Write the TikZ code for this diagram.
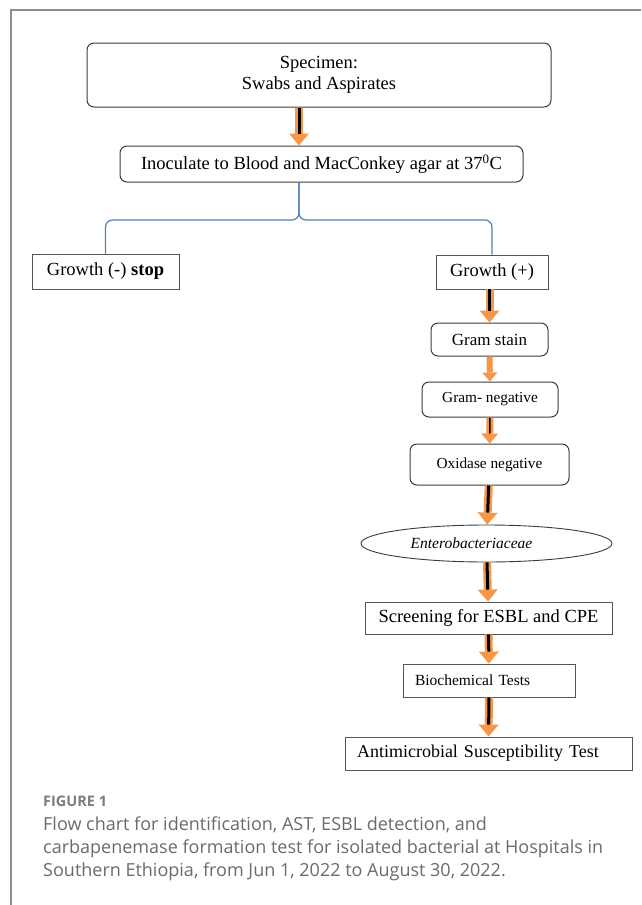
\documentclass[tikz,border=0pt]{standalone}
\usepackage{fontspec}
\setmainfont{Liberation Serif}
\newfontfamily\capfont{Open Sans}
\usetikzlibrary{arrows.meta,calc,shapes.geometric,positioning}
\definecolor{flInk}{HTML}{3C3C3C}
\definecolor{flEdge}{HTML}{555555}
\definecolor{flOrange}{HTML}{F79646}
\definecolor{flBlue}{HTML}{4F81BD}
\definecolor{flFrame}{HTML}{8E8E8E}
\definecolor{flCaption}{HTML}{6B6B6B}
\definecolor{flCapHead}{HTML}{7C7C7C}
\tikzset{
  fl box/.style={draw=flEdge, line width=0.9pt, inner sep=0pt, align=center,
    font=\fontsize{18.5}{21}\selectfont},
  fl round/.style={fl box, draw=flInk, line width=1pt, rounded corners=7pt},
  fl small/.style={font=\fontsize{15.3}{18}\selectfont},
  fl oval/.style={fl box, draw=flInk, ellipse, font=\fontsize{15.5}{18}\selectfont\itshape},
  fl left/.style={align=left, inner xsep=12pt, font=\fontsize{15.5}{19}\selectfont},
  fl arrow/.style={
    draw=flOrange, line width=8pt,
    -{Triangle[length=12pt,width=20pt,line width=0pt]},
    postaction={draw=black, line width=3pt, -, shorten >=12pt}
  },
  fl arrow plain/.style={
    draw=flOrange, line width=6pt,
    -{Triangle[length=9pt,width=15pt,line width=0pt]}
  },
  fl arrow thin/.style={
    draw=flOrange, line width=7pt,
    -{Triangle[length=10pt,width=17pt,line width=0pt]},
    postaction={draw=black, line width=1.5pt, -, shorten >=10pt}
  },
  fl bracket/.style={draw=flBlue, line width=1.2pt, rounded corners=7pt},
  fl frame/.style={draw=flFrame, line width=2pt},
  fl caption head/.style={font=\capfont\bfseries\fontsize{14.5}{17}\selectfont,
    text=flCapHead, inner sep=0pt},
  fl caption/.style={font=\capfont\fontsize{18}{23}\selectfont,
    text=flCaption, inner sep=0pt, align=left}
}

\begin{document}
\begin{tikzpicture}[x=1pt,y=-1pt]
  \useasboundingbox (0,0) rectangle (641,905);
  \fill[white] (0,0) rectangle (641,905);
  \draw[fl frame] (11,905) -- (11,10) -- (641,10);

  \node[fl round, minimum width=464pt, minimum height=64pt] (spec) at (319,75)
    {Specimen:\\Swabs and Aspirates};
  \node[fl round, minimum width=403pt, minimum height=36pt] (inoc) at (321.5,164)
    {Inoculate to Blood and MacConkey agar at 37\textsuperscript{0}C};
  \coordinate (fork) at (299,182);

  \node[fl box, minimum width=147pt, minimum height=35pt] (gminus) at (105.5,271.5)
    {Growth (-) \textbf{stop}};
  \node[fl box, minimum width=112pt, minimum height=34pt] (gplus) at (492,272)
    {Growth (+)};
  \node[fl round, minimum width=117pt, minimum height=33pt,
    font=\fontsize{17}{20}\selectfont] (gram) at (489.5,339.5) {Gram stain};
  \node[fl round, fl small, minimum width=136pt, minimum height=35pt] (gneg) at (490,399.5)
    {Gram- negative};
  \node[fl round, fl small, minimum width=159pt, minimum height=41pt] (oxi) at (489.5,464.5)
    {Oxidase negative};
  \node[fl oval, minimum width=251pt, minimum height=37pt] (entero) at (486.5,543.5)
    {Enterobacteriaceae\hspace*{30pt}};
  \node[fl box, minimum width=247pt, minimum height=32pt] (screen) at (488.5,618)
    {Screening for ESBL and CPE};
  \node[fl box, fl left, text width=148pt, minimum height=33pt] (bio) at (489,680.5)
    {Biochemical Tests};
  \node[fl box, fl left, text width=263pt, minimum height=33pt,
    font=\fontsize{18}{21}\selectfont] (ast) at (488.5,753.5)
    {Antimicrobial Susceptibility Test};

  \draw[fl arrow] (spec.south -| fork) -- (inoc.north -| fork);
  \draw[fl bracket] (fork) -- ++(0,38) -| (gminus.north);
  \draw[fl bracket] (fork) -- ++(0,38) -| (gplus.north);
  \draw[fl arrow] (gplus.south -| gram.north) -- (gram.north);
  \draw[fl arrow plain] (gram) -- (gneg);
  \draw[fl arrow thin] (gneg) -- (oxi);
  \draw[fl arrow] (oxi) -- (entero);
  \draw[fl arrow] (entero) -- (screen);
  \draw[fl arrow] (screen) -- (bio);
  \draw[fl arrow] (bio) -- (ast);

  \node[fl caption head, anchor=base west] (fighead) at (43,806) {FIGURE 1};
  \node[fl caption, anchor=north west] (figtext) at (43,817)
    {Flow chart for identification, AST, ESBL detection, and\\
     carbapenemase formation test for isolated bacterial at Hospitals in\\
     Southern Ethiopia, from Jun 1, 2022 to August 30, 2022.};
\end{tikzpicture}
\end{document}
